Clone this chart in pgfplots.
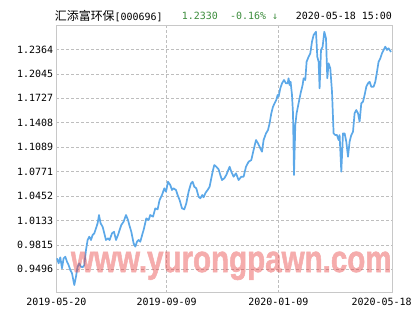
\documentclass[border=0pt]{standalone}
\usepackage{pgfplots}
\pgfplotsset{compat=1.18}
\usepackage{fontspec}
\setmainfont{DejaVu Sans Mono}
\newfontfamily\cjk{Noto Sans CJK SC}
\newfontfamily\wmfont{Liberation Sans Bold}[FakeBold=1.6]
\definecolor{navline}{RGB}{92,168,232}
\definecolor{framegray}{RGB}{200,200,200}
\definecolor{gridgray}{RGB}{190,190,190}
\definecolor{upgreen}{RGB}{60,140,60}
\definecolor{wmred}{RGB}{232,70,70}
\begin{document}
\begin{tikzpicture}
\begin{axis}[
  scale only axis,
  width=336.4bp, height=267.7bp,
  xmin=0, xmax=336.4,
  ymin=0.9191, ymax=1.2682,
  axis line style={framegray, line width=0.8bp},
  xtick={0,110.4,222},
  xticklabels={2019-05-20,2019-09-09,2020-01-09},
  extra x ticks={325.4},
  extra x tick labels={2020-05-18},
  extra x tick style={grid=none},
  ytick={0.9496,0.9815,1.0133,1.0452,1.0771,1.1089,1.1408,1.1727,1.2045,1.2364},
  yticklabels={0.9496,0.9815,1.0133,1.0452,1.0771,1.1089,1.1408,1.1727,1.2045,1.2364},
  major tick length=0pt,
  grid=major,
  major grid style={gridgray, dash pattern=on 2.5bp off 2.5bp, line width=0.5bp},
  tick label style={font=\fontsize{10}{12}\selectfont, inner sep=0pt, text=black},
  xticklabel style={yshift=-5bp},
  yticklabel style={xshift=-3bp},
  /pgf/number format/assume math mode=true,
  clip=false,
]
\addplot[navline, line width=1.7bp, line join=round] coordinates {
(0.7,0.9639)(2.3,0.9574)(4,0.9652)(5.7,0.9509)(7.3,0.9639)(9,0.9660)(10.7,0.9595)(12.3,0.9552)
(14,0.9487)(15.7,0.9444)(18,0.9291)(19.7,0.9400)(21.3,0.9530)(23,0.9574)(24.7,0.9530)(26.3,0.9522)
(28,0.9552)(29.7,0.9748)(31.3,0.9878)(33,0.9921)(34.7,0.9878)(36.3,0.9943)(38,0.9965)(39.7,1.0031)
(41.3,1.0096)(42.7,1.0204)(44.3,1.0096)(46.3,1.0052)(48,0.9965)(49.7,0.9878)(51.7,0.9900)(53.3,0.9878)
(55.7,0.9965)(57.7,0.9986)(59.7,0.9878)(61.7,0.9943)(63.3,1.0008)(65,1.0074)(67.3,1.0117)(69.7,1.0204)
(71.7,1.0139)(73,1.0074)(75,0.9986)(77.3,0.9835)(79,0.9791)(80.7,0.9856)(82.3,0.9878)(84,0.9856)
(86.3,0.9965)(87.3,1.0008)(90,1.0161)(92.3,1.0139)(94,1.0204)(96.7,1.0182)(99,1.0291)(101.3,1.0278)
(103.3,1.0400)(105.7,1.0465)(108,1.0552)(109.7,1.0508)(111.7,1.0638)(114,1.0595)(115.7,1.0530)(117.3,1.0552)
(119.7,1.0530)(121.3,1.0465)(123.3,1.0400)(125.7,1.0291)(128,1.0278)(130,1.0357)(132.3,1.0508)(134.7,1.0617)
(136.3,1.0638)(138,1.0573)(140,1.0552)(142.3,1.0443)(144,1.0422)(146,1.0465)(147.3,1.0435)(149.3,1.0495)
(151.3,1.0530)(153.3,1.0573)(155,1.0683)(156.7,1.0791)(158,1.0856)(160,1.0834)(162.3,1.0800)(164,1.0726)
(165.7,1.0660)(168,1.0683)(170,1.0726)(171.3,1.0769)(173.3,1.0834)(175,1.0769)(177.3,1.0704)(179.7,1.0748)
(182.3,1.0660)(185,1.0704)(187.3,1.0704)(189.7,1.0834)(192.3,1.0899)(195,1.0921)(197.3,1.1052)(199.7,1.1182)
(201.7,1.1139)(204,1.1074)(205.7,1.1030)(207.3,1.1182)(209.7,1.1269)(211.7,1.1312)(213.3,1.1400)(215,1.1530)
(216.7,1.1616)(218.3,1.1661)(220,1.1704)(221.3,1.1769)(222.3,1.1747)(224,1.1856)(225.7,1.1921)(227.7,1.1965)
(229.7,1.1921)(231.3,1.1921)(232.3,1.1987)(233.3,1.1899)(234.3,1.1942)(235.7,1.1769)(236.7,1.1530)(237.7,1.0726)
(239,1.1378)(240.3,1.1530)(242.3,1.1661)(244.3,1.1791)(246.3,1.1899)(247.3,1.1987)(249,1.1965)(250.3,1.2203)
(252.3,1.2268)(254,1.2313)(255.7,1.2464)(257.3,1.2551)(259.7,1.2594)(261,1.2268)(262.3,1.2203)(263.3,1.1856)
(264.7,1.2356)(266.3,1.2399)(268,1.2594)(269.7,1.2508)(271,1.1987)(272.3,1.2182)(274,1.2117)(275.7,1.1812)
(277.3,1.1269)(279,1.1247)(280.7,1.1247)(282.3,1.1182)(283.3,1.1247)(285,1.0769)(286.7,1.1269)(288.3,1.1269)
(290,1.1160)(291.7,1.0964)(293.3,1.1160)(295,1.1247)(296.7,1.1290)(298.3,1.1530)(300,1.1573)(301.7,1.1530)
(303.3,1.1421)(305,1.1661)(306.7,1.1682)(308.3,1.1769)(310,1.1877)(311.7,1.1921)(313.3,1.1942)(315,1.1877)
(317.3,1.1877)(319,1.1942)(320.7,1.2073)(322.3,1.2203)(324,1.2247)(325.7,1.2313)(327.3,1.2356)(329,1.2399)
(330.7,1.2356)(332.3,1.2378)(334.7,1.2330)
};
\end{axis}
% watermark
\begin{scope}[transparency group, opacity=0.45]
\node[anchor=base, text=wmred, inner sep=0pt] at (175bp,20.7bp)
  {\color{wmred}\scalebox{0.78}[1]{\wmfont\fontsize{38}{38}\selectfont www.yurongpawn.com}};
\end{scope}
% title row
\node[anchor=west, inner sep=0pt] at (-1.6bp,277bp)
  {{\cjk\fontsize{12}{14}\selectfont 汇添富环保}{\fontsize{10}{12}\selectfont[000696]}};
\node[anchor=west, inner sep=0pt, text=upgreen] at (125.4bp,277bp)
  {\fontsize{10}{12}\selectfont 1.2330};
\node[anchor=west, inner sep=0pt, text=upgreen] at (173.7bp,277bp)
  {\fontsize{10}{12}\selectfont -0.16\% ↓};
\node[anchor=west, inner sep=0pt] at (239.4bp,277bp)
  {\fontsize{10}{12}\selectfont 2020-05-18 15:00};
\path[use as bounding box] (-56.3bp,-37.3bp) rectangle (358.7bp,292.7bp);
\end{tikzpicture}
\end{document}
